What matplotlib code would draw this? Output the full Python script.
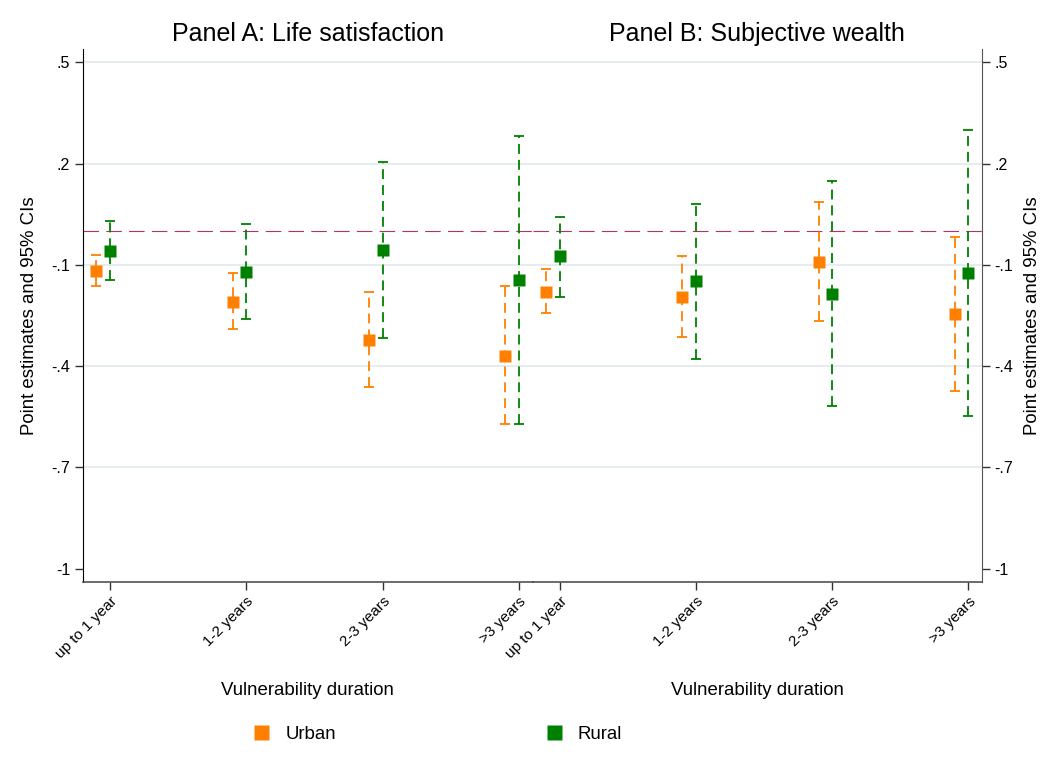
import numpy as np
import matplotlib
matplotlib.use("Agg")
from matplotlib import pyplot as plt
from matplotlib.lines import Line2D

plt.rcParams['font.family'] = ['Liberation Sans', 'DejaVu Sans']

durations = ["up to 1 year", "1-2 years", "2-3 years", ">3 years"]
yticks = [0.5, 0.2, -0.1, -0.4, -0.7, -1.0]
ytick_labels = [".5", ".2", "-.1", "-.4", "-.7", "-1"]

# Panel A: life satisfaction
urban_a = [-0.117, -0.209, -0.322, -0.369]
urban_a_lo = [-0.163, -0.291, -0.463, -0.572]
urban_a_hi = [-0.070, -0.125, -0.181, -0.164]
rural_a = [-0.058, -0.120, -0.055, -0.146]
rural_a_lo = [-0.146, -0.260, -0.316, -0.571]
rural_a_hi = [0.030, 0.022, 0.204, 0.283]

# Panel B: subjective wealth
urban_b = [-0.179, -0.194, -0.090, -0.247]
urban_b_lo = [-0.244, -0.313, -0.265, -0.474]
urban_b_hi = [-0.113, -0.074, 0.085, -0.018]
rural_b = [-0.075, -0.149, -0.185, -0.123]
rural_b_lo = [-0.194, -0.380, -0.518, -0.547]
rural_b_hi = [0.041, 0.080, 0.149, 0.300]

ORANGE = "#ff8000"
GREEN = "#008000"
ZERO = "#b03460"
GRID = "#e6edf1"

W, H = 1052, 770
fig = plt.figure(figsize=(W / 100, H / 100), dpi=100)

x0, xm, x1 = 82.7, 532.7, 982.0
ytop, ybot = 49, 582
axA = fig.add_axes([x0 / W, 1 - ybot / H, (xm - x0) / W, (ybot - ytop) / H])
axB = fig.add_axes([xm / W, 1 - ybot / H, (x1 - xm) / W, (ybot - ytop) / H])

x = np.arange(1, 5)


def ci(ax, xs, est, lo, hi, color):
    est = np.array(est)
    err = [est - np.array(lo), np.array(hi) - est]
    eb = ax.errorbar(xs, est, yerr=err, fmt='none', ecolor=color,
                     elinewidth=1.3, capsize=3.8, capthick=1.3, zorder=3)
    eb.lines[2][0].set_linestyle((0, (5.5, 3.3)))
    ax.plot(xs, est, 's', color=color, ms=8.8, mec='none', zorder=4)


for ax, ua, ul, uh, ra, rl, rh, title in [
        (axA, urban_a, urban_a_lo, urban_a_hi, rural_a, rural_a_lo, rural_a_hi,
         "Panel A: Life satisfaction"),
        (axB, urban_b, urban_b_lo, urban_b_hi, rural_b, rural_b_lo, rural_b_hi,
         "Panel B: Subjective wealth")]:
    for yv in yticks[:-1]:
        ax.axhline(yv, color=GRID, lw=1.4, zorder=1)
    ax.axhline(0, color=ZERO, lw=0.8, ls=(0, (14, 6.5)), zorder=2)
    ci(ax, x - 0.1, ua, ul, uh, ORANGE)
    ci(ax, x, ra, rl, rh, GREEN)
    ax.set_xlim(0.8, 4.1)
    ax.set_ylim(-1.04, 0.54)
    ax.set_xticks(x)
    ax.set_xticklabels(durations, rotation=45, ha='right', va='top',
                       rotation_mode='anchor', fontsize=11)
    ax.set_yticks(yticks)
    ax.set_yticklabels(ytick_labels, fontsize=11.5)
    ax.tick_params(axis='both', direction='out', length=6, width=1,
                   color='#333333', pad=3)
    ax.set_xlabel("Vulnerability duration", fontsize=13.4, labelpad=15)
    ax.set_title(title, fontsize=18, pad=6)
    ax.spines['top'].set_visible(False)
    ax.spines['bottom'].set_color('#444444')
    ax.spines['bottom'].set_linewidth(1.1)
    ax.set_facecolor('none')

axA.spines['right'].set_visible(False)
axA.spines['left'].set_color('black')
axA.set_ylabel("Point estimates and 95% CIs", fontsize=13.4, labelpad=9.5)

axB.spines['left'].set_visible(False)
axB.spines['right'].set_color('#555555')
axB.yaxis.tick_right()
axB.yaxis.set_label_position('right')
axB.set_ylabel("Point estimates and 95% CIs", fontsize=13.4, labelpad=7.5,
               rotation=90)

handles = [Line2D([], [], ls='none', marker='s', ms=10.8, color=ORANGE, mec='none'),
           Line2D([], [], ls='none', marker='s', ms=10.8, color=GREEN, mec='none')]
fig.legend(handles, ["Urban", "Rural"], ncol=2, frameon=False, fontsize=13.4,
           loc='center', bbox_to_anchor=(437 / W, 1 - 734 / H),
           handlelength=1.0, handletextpad=0.8, columnspacing=11.2)

fig.savefig("out.png", dpi=100, facecolor='white')
